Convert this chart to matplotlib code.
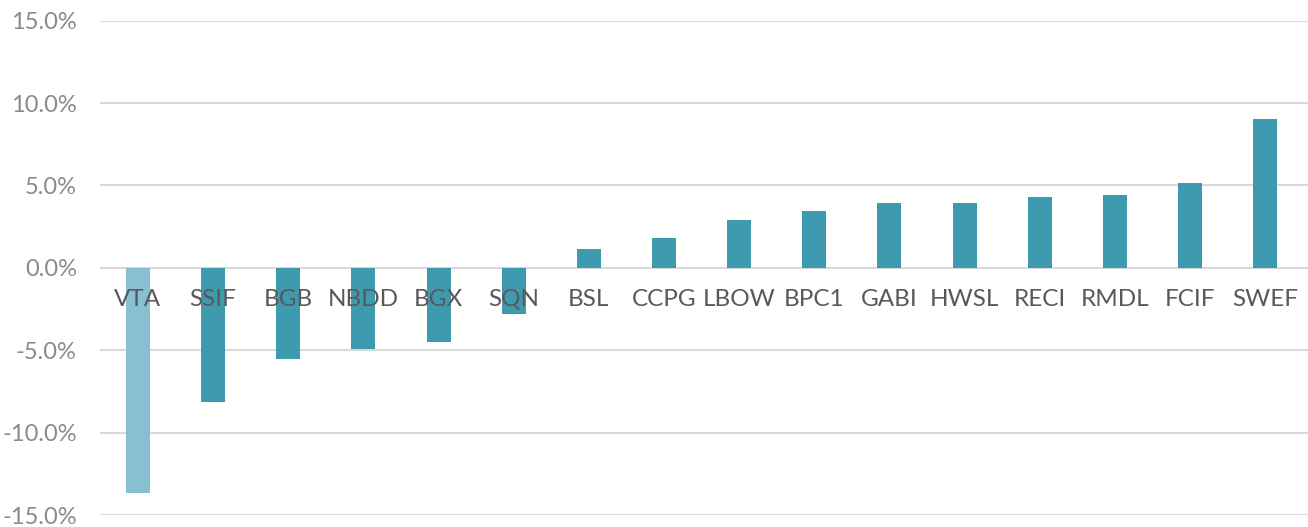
import matplotlib
matplotlib.use("Agg")
import matplotlib.pyplot as plt
from matplotlib.ticker import FuncFormatter

categories = ["VTA", "SSIF", "BGB", "NBDD", "BGX", "SQN", "BSL", "CCPG", "LBOW",
              "BPC1", "GABI", "HWSL", "RECI", "RMDL", "FCIF", "SWEF"]
values = [-13.67, -8.17, -5.56, -4.91, -4.47, -2.83, 1.14, 1.81, 2.91,
          3.46, 3.93, 3.93, 4.33, 4.43, 5.12, 9.03]
highlight = ["VTA"]
yticks = [-15, -10, -5, 0, 5, 10, 15]

dark = "#3E9BAF"
light = "#87C1D1"
colors = [light if c in highlight else dark for c in categories]

plt.rcParams['font.family'] = ['Lato', 'DejaVu Sans']

fig = plt.figure(figsize=(13.08, 5.27), dpi=100)
left_px = 100.4
ax = fig.add_axes([left_px/1308, 1 - 515/527, 1 - left_px/1308, (515 - 20.7)/527])

step = 75.15
x = list(range(len(categories)))
ax.bar(x, values, width=0.32, color=colors, zorder=3)

ax.set_xlim(-0.5, -0.5 + (1308 - left_px) / step)
ax.set_ylim(-15, 15)
ax.set_yticks(yticks)
ax.yaxis.set_major_formatter(FuncFormatter(lambda v, p: f"{v:.1f}%"))
ax.tick_params(axis='y', length=0, pad=17, labelsize=17, labelcolor="#8A8A8A")
ax.set_xticks([])
ax.grid(axis='y', color="#D9D9D9", linewidth=1.5, zorder=0)
for s in ax.spines.values():
    s.set_visible(False)

for xi, c in zip(x, categories):
    ax.annotate(c, xy=(xi, 0), xytext=(0, -22.5), textcoords='offset points',
                ha='center', va='center', fontsize=17.5, color="#595959",
                zorder=5)

fig.savefig("out.png", dpi=100)
